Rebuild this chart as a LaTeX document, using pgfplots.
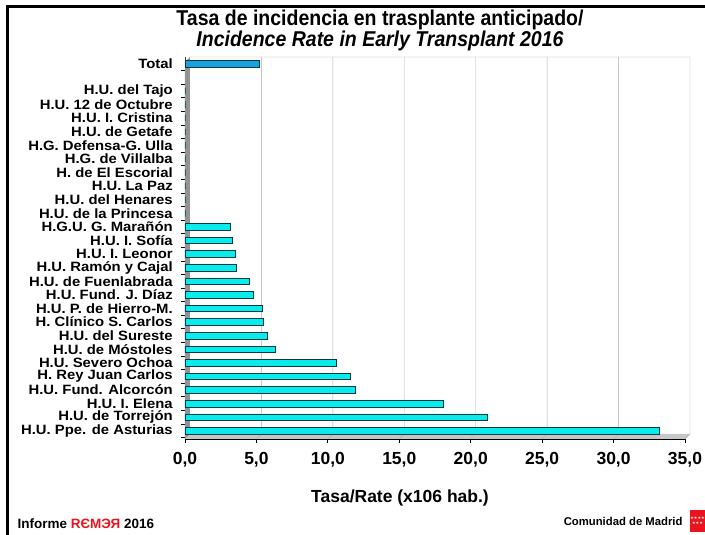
\documentclass[border=0pt]{standalone}
\usepackage{fontspec}
\setmainfont{Liberation Sans}
\newfontfamily\dejavu{DejaVu Sans}
\usepackage{pgfplots}
\pgfplotsset{compat=1.18}
\definecolor{barcyan}{RGB}{10,235,235}
\definecolor{barblue}{RGB}{25,160,225}
\definecolor{baredge}{RGB}{0,60,70}
\definecolor{remred}{RGB}{235,20,30}
\begin{document}
\begin{tikzpicture}[x=1pt,y=1pt]
\useasboundingbox (0,0) rectangle (705,535);
\fill[white] (0,0) rectangle (705,535);
% frame
\draw[line width=3pt] (7,0) -- (7,528) -- (705,528);
% title
\node[font=\fontsize{19.5}{22}\selectfont\bfseries, yscale=1.1] at (380,515) {Tasa de incidencia en trasplante anticipado/};
\node[font=\fontsize{19.5}{22}\selectfont\bfseries\itshape, yscale=1.1] at (380,494) {Incidence Rate in Early Transplant 2016};
\begin{axis}[
  at={(185pt,96pt)}, anchor=south west,
  width=500pt, height=382pt, scale only axis,
  xmin=0, xmax=35, ymin=-0.6, ymax=27.5,
  clip=false,
  xbar, bar width=6.5pt,
  axis x line*=bottom, axis y line*=left,
  x axis line style={black, line width=0.8pt},
  y axis line style={gray!50!black, line width=0.8pt},
  tick align=outside,
  xtick={0,5,...,35},
  major tick length=4pt, minor tick length=4pt,
  major x tick style={black, line width=0.8pt},
  major y tick style={draw=none},
  minor ytick={-0.5,0.5,...,26.5},
  minor y tick style={black, line width=0.8pt},
  ytick={0,...,27},
  yticklabels={H.U. Ppe. de Asturias, H.U. de Torrejón, H.U. I. Elena, H.U. Fund. Alcorcón, H. Rey Juan Carlos, H.U. Severo Ochoa, H.U. de Móstoles, H.U. del Sureste, H. Clínico S. Carlos, H.U. P. de Hierro-M., H.U. Fund. J. Díaz, H.U. de Fuenlabrada, H.U. Ramón y Cajal, H.U. I. Leonor, H.U. I. Sofía, H.G.U. G. Marañón, H.U. de la Princesa, H.U. del Henares, H.U. La Paz, H. de El Escorial, H.G. de Villalba, H.G. Defensa-G. Ulla, H.U. de Getafe, H.U. I. Cristina, H.U. 12 de Octubre, H.U. del Tajo, {}, Total},
  yticklabel style={font=\fontsize{13.5}{13.5}\selectfont\bfseries, xscale=1.1, xshift=-4pt},
  xticklabel style={font=\fontsize{17.5}{18}\selectfont\bfseries, yshift=-6pt},
  /pgf/number format/.cd, fixed, fixed zerofill, precision=1, use comma, assume math mode=true,
]
% 3D floor, wall and grid
\fill[gray!45] (axis cs:0,-0.6) -- (axis cs:35,-0.6) -- (axis cs:35.35,-0.23) -- (axis cs:0.35,-0.23) -- cycle;
\fill[gray!85] (axis cs:0,-0.6) -- (axis cs:0,27.13) -- (axis cs:0.35,27.5) -- (axis cs:0.35,-0.23) -- cycle;
\draw[gray!65] (axis cs:5.35,-0.23) -- (axis cs:5.35,27.5) (axis cs:5,-0.6) -- (axis cs:5.35,-0.23);
\draw[gray!65] (axis cs:10.35,-0.23) -- (axis cs:10.35,27.5) (axis cs:10,-0.6) -- (axis cs:10.35,-0.23);
\draw[gray!65] (axis cs:15.35,-0.23) -- (axis cs:15.35,27.5) (axis cs:15,-0.6) -- (axis cs:15.35,-0.23);
\draw[gray!65] (axis cs:20.35,-0.23) -- (axis cs:20.35,27.5) (axis cs:20,-0.6) -- (axis cs:20.35,-0.23);
\draw[gray!65] (axis cs:25.35,-0.23) -- (axis cs:25.35,27.5) (axis cs:25,-0.6) -- (axis cs:25.35,-0.23);
\draw[gray!65] (axis cs:30.35,-0.23) -- (axis cs:30.35,27.5) (axis cs:30,-0.6) -- (axis cs:30.35,-0.23);
\draw[gray!65] (axis cs:0.35,27.5) -- (axis cs:35.35,27.5) -- (axis cs:35.35,-0.23) -- (axis cs:35,-0.6);
\addplot[fill=barcyan, draw=baredge, line width=0.8pt, bar shift=0pt] coordinates {
(33.2,0) (21.2,1) (18.1,2) (11.9,3) (11.6,4) (10.6,5) (6.3,6) (5.8,7) (5.5,8) (5.4,9)
(4.8,10) (4.5,11) (3.6,12) (3.5,13) (3.3,14) (3.2,15) (0,16) (0,17) (0,18) (0,19)
(0,20) (0,21) (0,22) (0,23) (0,24) (0,25)
};
\addplot[fill=barblue, draw=baredge, line width=0.8pt, bar shift=0pt] coordinates {(5.2,27)};
\end{axis}
\node[font=\fontsize{17.5}{18}\selectfont\bfseries] at (400,37) {Tasa/Rate (x106 hab.)};
\node[font=\fontsize{13.5}{14}\selectfont\bfseries, anchor=base west] at (14,6) {Informe \textcolor{remred}{RЄMЭЯ} 2016};
\node[font=\fontsize{11.3}{12}\selectfont\bfseries, anchor=base east] at (686,9) {Comunidad de Madrid};
\fill[remred] (690,3) rectangle (705,25);
\node[text=white, font=\dejavu\fontsize{4}{4}\selectfont, inner sep=0pt] at (697.5,17) {★★★★};
\node[text=white, font=\dejavu\fontsize{4}{4}\selectfont, inner sep=0pt] at (697.5,12) {★★★};
\end{tikzpicture}
\end{document}
